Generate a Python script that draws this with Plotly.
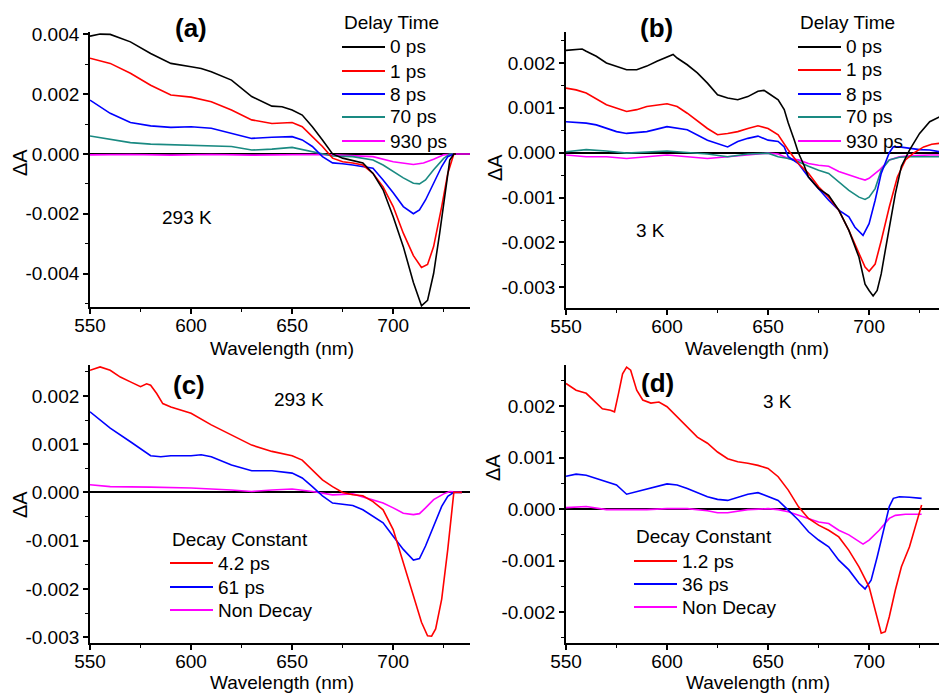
import plotly.graph_objects as go

# ---------------- data: transient absorption spectra ----------------
# (a) 293 K, delay-time spectra
a_wl_0ps = [550, 555, 560, 570, 580, 590, 600, 605, 610, 620, 630, 640, 645, 650, 655, 660, 665, 670,
            675, 680, 685, 690, 695, 700, 705, 710, 714, 717, 720, 723, 726, 728, 730, 731]
a_0ps = [0.00394, 0.00401, 0.00400, 0.00375, 0.00336, 0.00303, 0.00292, 0.00286, 0.00275, 0.00247,
         0.00192, 0.00160, 0.00158, 0.00147, 0.00130, 0.00091, 0.00047, 0.0, -0.00014, -0.00022,
         -0.00030, -0.00065, -0.00120, -0.00210, -0.00310, -0.00430, -0.00508, -0.00490, -0.00400,
         -0.00265, -0.00110, -0.00020, 0.0, 0.0]
a_wl_1ps = [550, 560, 570, 580, 590, 600, 610, 620, 630, 640, 650, 655, 660, 665, 670, 675, 680, 685,
            690, 695, 700, 705, 710, 714, 717, 720, 724, 727, 730, 731]
a_1ps = [0.00320, 0.00303, 0.00270, 0.00230, 0.00197, 0.00190, 0.00175, 0.00147, 0.00114, 0.00102,
         0.00105, 0.00091, 0.00058, 0.00025, -0.00014, -0.00026, -0.00030, -0.00037, -0.00065,
         -0.00110, -0.00176, -0.00265, -0.00340, -0.00380, -0.00370, -0.00310, -0.00176, -0.00065,
         0.0, 0.0]
a_wl_8ps = [550, 560, 570, 580, 590, 600, 610, 620, 630, 640, 650, 655, 660, 665, 670, 675, 680, 690,
            695, 700, 705, 710, 713, 716, 720, 724, 727, 730, 731]
a_8ps = [0.00180, 0.00136, 0.00105, 0.00094, 0.00089, 0.00091, 0.00086, 0.00069, 0.00052, 0.00056,
         0.00058, 0.00047, 0.00025, -0.00009, -0.00030, -0.00033, -0.00037, -0.00048, -0.00087,
         -0.00130, -0.00176, -0.00200, -0.00187, -0.00154, -0.00098, -0.00042, -0.00009, 0.0, 0.0]
a_wl_70ps = [550, 560, 570, 580, 600, 620, 630, 640, 650, 660, 665, 670, 680, 690, 695, 700, 705, 710,
             713, 716, 720, 725, 728, 731]
a_70ps = [0.00060, 0.00049, 0.00038, 0.00033, 0.00030, 0.00025, 0.00013, 0.00016, 0.00022, 0.00008,
          0.0, -0.00007, -0.00009, -0.00020, -0.00037, -0.00060, -0.00080, -0.00098, -0.00100,
          -0.00087, -0.00053, -0.00015, 0.0, 0.0]
a_wl_930ps = [550, 570, 590, 610, 630, 650, 660, 670, 680, 690, 700, 705, 710, 715, 720, 725, 730, 738]
a_930ps = [-0.00003, -0.00002, -0.00004, -0.00002, -0.00004, -0.00001, -0.00002, -0.00003, -0.00005,
           -0.00009, -0.00026, -0.00030, -0.00035, -0.00030, -0.00018, -0.00003, 0.0, 0.0]

# (b) 3 K, delay-time spectra
b_wl_0ps = [550, 555, 558, 560, 565, 570, 575, 580, 585, 590, 595, 600, 603, 605, 610, 615, 620, 625,
            630, 635, 640, 645, 648, 650, 655, 658, 660, 663, 665, 668, 670, 675, 680, 685, 690, 695,
            698, 700, 702, 704, 706, 708, 710, 713, 716, 720, 725, 730, 735]
b_0ps = [0.00228, 0.00230, 0.00231, 0.00226, 0.00215, 0.00200, 0.00193, 0.00185, 0.00185, 0.00193,
         0.00204, 0.00213, 0.00219, 0.00211, 0.00196, 0.00178, 0.00155, 0.00129, 0.00122, 0.00118,
         0.00125, 0.00137, 0.00139, 0.00133, 0.00118, 0.00096, 0.00066, 0.00028, 0.0, -0.00030,
         -0.00054, -0.00080, -0.00095, -0.00128, -0.00173, -0.00233, -0.00293, -0.00307, -0.00319,
         -0.00307, -0.00270, -0.00218, -0.00166, -0.00091, -0.00030, 0.00006, 0.00043, 0.00069, 0.00080]
b_wl_1ps = [550, 555, 560, 570, 580, 585, 590, 600, 605, 610, 620, 625, 630, 635, 640, 645, 650, 655,
            660, 665, 670, 675, 680, 685, 690, 695, 698, 700, 703, 706, 710, 714, 718, 722, 727, 731, 735]
b_1ps = [0.00144, 0.00140, 0.00133, 0.00107, 0.00092, 0.00096, 0.00103, 0.00109, 0.00103, 0.00088,
         0.00054, 0.00040, 0.00043, 0.00047, 0.00054, 0.00060, 0.00054, 0.00040, 0.00006, -0.00024,
         -0.00046, -0.00076, -0.00099, -0.00128, -0.00173, -0.00225, -0.00255, -0.00264, -0.00248,
         -0.00196, -0.00121, -0.00054, -0.00016, -0.00001, 0.00013, 0.00019, 0.00021]
b_wl_8ps = [550, 560, 565, 570, 575, 580, 590, 600, 610, 620, 625, 630, 635, 640, 645, 650, 655, 658,
            660, 665, 670, 672, 675, 680, 685, 690, 693, 697, 700, 703, 706, 710, 712, 715, 720, 725,
            730, 735]
b_8ps = [0.00069, 0.00066, 0.00062, 0.00054, 0.00047, 0.00043, 0.00047, 0.00058, 0.00051, 0.00028,
         0.00021, 0.00013, 0.00025, 0.00032, 0.00037, 0.00028, 0.00025, 0.00013, -0.00009, -0.00024,
         -0.00054, -0.00065, -0.00080, -0.00106, -0.00128, -0.00143, -0.00166, -0.00184, -0.00158,
         -0.00106, -0.00046, 0.0, 0.00013, 0.00013, 0.00010, 0.00007, 0.00006, 0.00002]
b_wl_70ps = [550, 560, 570, 580, 600, 620, 630, 640, 650, 655, 660, 665, 670, 675, 680, 685, 690, 695,
             698, 700, 703, 706, 710, 715, 720, 730, 735]
b_70ps = [0.00002, 0.00007, 0.00004, -0.00001, 0.00004, -0.00003, -0.00009, -0.00003, -0.00001,
          -0.00009, -0.00013, -0.00020, -0.00030, -0.00039, -0.00046, -0.00065, -0.00084, -0.00099,
          -0.00104, -0.00099, -0.00080, -0.00039, -0.00016, -0.00010, -0.00009, -0.00009, -0.00009]
b_wl_930ps = [550, 560, 570, 580, 590, 600, 610, 620, 630, 640, 650, 655, 660, 665, 670, 675, 680, 685,
              690, 695, 698, 700, 705, 710, 715, 720, 730, 735]
b_930ps = [-0.00005, -0.00009, -0.00009, -0.00013, -0.00009, -0.00005, -0.00009, -0.00013, -0.00009,
           -0.00005, -0.00001, -0.00003, -0.00013, -0.00016, -0.00024, -0.00028, -0.00030, -0.00042,
           -0.00050, -0.00057, -0.00061, -0.00057, -0.00039, -0.00016, -0.00009, -0.00007, -0.00005,
           -0.00005]

# (c) 293 K, decay-associated spectra
c_wl_4ps = [550, 555, 560, 565, 570, 575, 578, 580, 583, 586, 590, 600, 610, 620, 630, 640, 650, 655,
            660, 665, 670, 675, 680, 685, 690, 695, 700, 705, 710, 714, 717, 719, 721, 724, 727, 729,
            730, 734]
c_4ps = [0.00253, 0.00260, 0.00253, 0.00239, 0.00229, 0.00219, 0.00225, 0.00222, 0.00205, 0.00184,
         0.00177, 0.00164, 0.00140, 0.00119, 0.00098, 0.00085, 0.00076, 0.00067, 0.00047, 0.00026,
         0.00012, 0.0, -0.00005, -0.00007, -0.00019, -0.00036, -0.00077, -0.00146, -0.00214, -0.00269,
         -0.00297, -0.00298, -0.00283, -0.00221, -0.00118, -0.00029, 0.0, 0.0]
c_wl_61ps = [550, 560, 570, 580, 585, 590, 600, 605, 610, 620, 630, 640, 650, 655, 660, 665, 670, 675,
             680, 685, 690, 695, 700, 705, 710, 713, 716, 720, 724, 727, 730, 734]
c_61ps = [0.00167, 0.00133, 0.00105, 0.00076, 0.00074, 0.00076, 0.00076, 0.00078, 0.00074, 0.00057,
          0.00045, 0.00045, 0.00040, 0.00030, 0.00012, -0.00007, -0.00022, -0.00025, -0.00027,
          -0.00036, -0.00049, -0.00063, -0.00091, -0.00118, -0.00140, -0.00137, -0.00111, -0.00070,
          -0.00029, -0.00008, 0.0, 0.0]
c_wl_nd = [550, 560, 580, 600, 620, 630, 640, 650, 660, 665, 670, 680, 690, 695, 700, 705, 710, 713,
           716, 720, 725, 728, 734]
c_nd = [0.00016, 0.00012, 0.00011, 0.00009, 0.00005, 0.00002, 0.00005, 0.00007, 0.00002, -0.00001,
        -0.00005, -0.00003, -0.00015, -0.00022, -0.00032, -0.00043, -0.00046, -0.00044, -0.00032,
        -0.00015, -0.00003, 0.00002, 0.0]

# (d) 3 K, decay-associated spectra
d_wl_1ps = [550, 555, 560, 565, 568, 572, 574, 576, 578, 580, 582, 585, 588, 592, 596, 600, 605, 610,
            615, 620, 625, 630, 635, 640, 645, 650, 655, 660, 665, 670, 675, 680, 685, 690, 695, 700,
            703, 706, 708, 710, 713, 716, 720, 723, 726]
d_1ps = [0.00244, 0.00231, 0.00225, 0.00205, 0.00195, 0.00192, 0.00189, 0.00225, 0.00263, 0.00276,
         0.00270, 0.00231, 0.00212, 0.00206, 0.00208, 0.00199, 0.00179, 0.00160, 0.00140, 0.00128,
         0.00111, 0.00098, 0.00092, 0.00089, 0.00085, 0.00079, 0.00063, 0.00037, 0.00005, -0.00018,
         -0.00031, -0.00041, -0.00054, -0.00080, -0.00112, -0.00151, -0.00196, -0.00241, -0.00238,
         -0.00209, -0.00157, -0.00112, -0.00073, -0.00034, 0.00008]
d_wl_36ps = [550, 555, 560, 570, 575, 580, 585, 590, 600, 605, 610, 620, 625, 630, 640, 645, 650, 655,
             660, 665, 670, 675, 680, 685, 690, 695, 698, 701, 704, 707, 710, 712, 715, 720, 726]
d_36ps = [0.00064, 0.00068, 0.00066, 0.00053, 0.00047, 0.00029, 0.00034, 0.00040, 0.00049, 0.00047,
          0.00040, 0.00024, 0.00019, 0.00017, 0.00029, 0.00032, 0.00024, 0.00017, -0.00002, -0.00021,
          -0.00044, -0.00060, -0.00073, -0.00099, -0.00118, -0.00144, -0.00155, -0.00138, -0.00093,
          -0.00041, 0.00005, 0.00021, 0.00024, 0.00023, 0.00021]
d_wl_nd = [550, 560, 570, 580, 590, 600, 610, 620, 625, 630, 640, 650, 655, 660, 665, 670, 675, 680,
           685, 690, 695, 697, 700, 705, 710, 713, 718, 726]
d_nd = [0.00003, 0.00005, -0.00001, -0.00001, -0.00001, 0.00001, 0.00001, -0.00003, -0.00007,
        -0.00007, -0.00001, 0.00001, -0.00001, -0.00005, -0.00012, -0.00018, -0.00025, -0.00028,
        -0.00041, -0.00050, -0.00063, -0.00068, -0.00060, -0.00041, -0.00018, -0.00012, -0.00010,
        -0.00010]

# tick labels
x_ticks = [550, 600, 650, 700]
x_ticktext = ["550", "600", "650", "700"]
a_yticks = [0.004, 0.002, 0.0, -0.002, -0.004]
a_yticktext = ["0.004", "0.002", "0.000", "-0.002", "-0.004"]
b_yticks = [0.002, 0.001, 0.0, -0.001, -0.002, -0.003]
b_yticktext = ["0.002", "0.001", "0.000", "-0.001", "-0.002", "-0.003"]
c_yticks = [0.002, 0.001, 0.0, -0.001, -0.002, -0.003]
c_yticktext = ["0.002", "0.001", "0.000", "-0.001", "-0.002", "-0.003"]
d_yticks = [0.002, 0.001, 0.0, -0.001, -0.002]
d_yticktext = ["0.002", "0.001", "0.000", "-0.001", "-0.002"]

delay_labels = ["0 ps", "1 ps", "8 ps", "70 ps", "930 ps"]
c_labels = ["4.2 ps", "61 ps", "Non Decay"]
d_labels = ["1.2 ps", "36 ps", "Non Decay"]

# ---------------- styling ----------------
W, H = 939, 693
FONT = "Arial, 'Liberation Sans', sans-serif"
BLACK, RED, BLUE, TEAL, MAGENTA = "#000000", "#ff0000", "#0000ff", "#1a8a82", "#ff00ff"
delay_colors = [BLACK, RED, BLUE, TEAL, MAGENTA]
das_colors = [RED, BLUE, MAGENTA]
FS = 19


def fx(px):
    return px / W


def fy(py):
    return 1 - py / H


fig = go.Figure()

panels = [
    ("x", "y", [(a_wl_0ps, a_0ps), (a_wl_1ps, a_1ps), (a_wl_8ps, a_8ps), (a_wl_70ps, a_70ps),
                (a_wl_930ps, a_930ps)], delay_colors),
    ("x2", "y2", [(b_wl_0ps, b_0ps), (b_wl_1ps, b_1ps), (b_wl_8ps, b_8ps), (b_wl_70ps, b_70ps),
                  (b_wl_930ps, b_930ps)], delay_colors),
    ("x3", "y3", [(c_wl_4ps, c_4ps), (c_wl_61ps, c_61ps), (c_wl_nd, c_nd)], das_colors),
    ("x4", "y4", [(d_wl_1ps, d_1ps), (d_wl_36ps, d_36ps), (d_wl_nd, d_nd)], das_colors),
]

for xa, ya, series, colors in panels:
    # draw the faint components first so the large ones sit on top
    for (wl, vals), col in reversed(list(zip(series, colors))):
        fig.add_trace(go.Scatter(x=wl, y=vals, mode="lines", xaxis=xa, yaxis=ya,
                                 line=dict(color=col, width=1.6), showlegend=False,
                                 hoverinfo="skip"))


def xaxis_style(domain, rng):
    return dict(domain=domain, range=rng, automargin=False, showline=True, linecolor="black",
                linewidth=1.8, ticks="outside", ticklen=5, tickwidth=1.5, tickcolor="black",
                tickvals=x_ticks, ticktext=x_ticktext, showgrid=False, zeroline=False,
                ticklabelstandoff=-5,
                tickfont=dict(family=FONT, size=FS, color="black"),
                minor=dict(dtick=25, tick0=550, ticks="outside", ticklen=3, tickwidth=1.2,
                           tickcolor="black", showgrid=False))


def yaxis_style(domain, rng, tv, tt, minor):
    return dict(domain=domain, range=rng, automargin=False, showline=True, linecolor="black",
                linewidth=1.8, ticks="outside", ticklen=5, tickwidth=1.5, tickcolor="black",
                tickvals=tv, ticktext=tt, showgrid=False,
                zeroline=True, zerolinecolor="black", zerolinewidth=1.6,
                tickfont=dict(family=FONT, size=FS, color="black"),
                minor=dict(dtick=minor, tick0=0, ticks="outside", ticklen=3, tickwidth=1.2,
                           tickcolor="black", showgrid=False))


left_dom = [fx(90), fx(470)]
right_dom = [fx(566), 1.0]
top_dom_a = [fy(307), fy(32)]
top_dom_b = [fy(308), fy(32)]
bot_dom = [fy(643), fy(365)]

fig.update_layout(
    width=W, height=H, margin=dict(l=0, r=0, t=0, b=0, pad=0, autoexpand=False),
    paper_bgcolor="white", plot_bgcolor="white",
    font=dict(family=FONT, size=FS, color="black"),
    xaxis=dict(**xaxis_style(left_dom, [550, 738]), anchor="y"),
    yaxis=dict(**yaxis_style(top_dom_a, [-0.00512, 0.00408], a_yticks, a_yticktext, 0.001),
               anchor="x"),
    xaxis2=dict(**xaxis_style(right_dom, [550, 734.6]), anchor="y2"),
    yaxis2=dict(**yaxis_style(top_dom_b, [-0.00346, 0.00269], b_yticks, b_yticktext, 0.0005),
                anchor="x2"),
    xaxis3=dict(**xaxis_style(left_dom, [550, 738]), anchor="y3"),
    yaxis3=dict(**yaxis_style(bot_dom, [-0.00312, 0.00264], c_yticks, c_yticktext, 0.0005),
                anchor="x3"),
    xaxis4=dict(**xaxis_style(right_dom, [550, 734.6]), anchor="y4"),
    yaxis4=dict(**yaxis_style(bot_dom, [-0.0026, 0.0028], d_yticks, d_yticktext, 0.0005),
                anchor="x4"),
)

annotations = []
shapes = []


def text(px, py, s, size=FS, bold=False, angle=0, xanchor="center"):
    annotations.append(dict(x=fx(px), y=fy(py), xref="paper", yref="paper",
                            text="<b>" + s + "</b>" if bold else s,
                            showarrow=False, textangle=angle, xanchor=xanchor, yanchor="middle",
                            font=dict(family=FONT, size=size, color="black")))


# panel letters and temperatures
text(191, 28, "(a)", size=26, bold=True)
text(656, 28, "(b)", size=26, bold=True)
text(189, 385, "(c)", size=26, bold=True)
text(657, 383, "(d)", size=26, bold=True)
text(187, 217, "293 K")
text(650, 230, "3 K")
text(299, 400, "293 K")
text(777, 401, "3 K")

# axis titles
text(282, 348, "Wavelength (nm)")
text(757, 348, "Wavelength (nm)")
text(282, 682, "Wavelength (nm)")
text(758, 682, "Wavelength (nm)")
text(20, 163, "ΔA", size=20, angle=-90)
text(495, 167, "ΔA", size=20, angle=-90)
text(20, 505, "ΔA", size=20, angle=-90)
text(493, 468, "ΔA", size=20, angle=-90)


def legend(x0, title_y, row_ys, labels, colors, title):
    annotations.append(dict(x=fx(x0), y=fy(title_y), xref="paper", yref="paper", text=title,
                            showarrow=False, xanchor="left", yanchor="middle",
                            font=dict(family=FONT, size=FS, color="black")))
    for ry, lab, col in zip(row_ys, labels, colors):
        shapes.append(dict(type="line", xref="paper", yref="paper", x0=fx(x0), x1=fx(x0 + 43),
                           y0=fy(ry), y1=fy(ry), line=dict(color=col, width=1.8)))
        annotations.append(dict(x=fx(x0 + 46), y=fy(ry), xref="paper", yref="paper", text=lab,
                                showarrow=False, xanchor="left", yanchor="middle",
                                font=dict(family=FONT, size=FS, color="black")))


legend(342, 22, [47, 71, 94, 117, 141], delay_labels, delay_colors, "Delay Time")
legend(798, 22, [47, 70, 94, 117, 141], delay_labels, delay_colors, "Delay Time")
legend(170, 539, [563, 587, 610], c_labels, das_colors, "Decay Constant")
legend(634, 536, [561, 584, 607], d_labels, das_colors, "Decay Constant")

fig.update_layout(annotations=annotations, shapes=shapes)
fig.write_html("out.html")
